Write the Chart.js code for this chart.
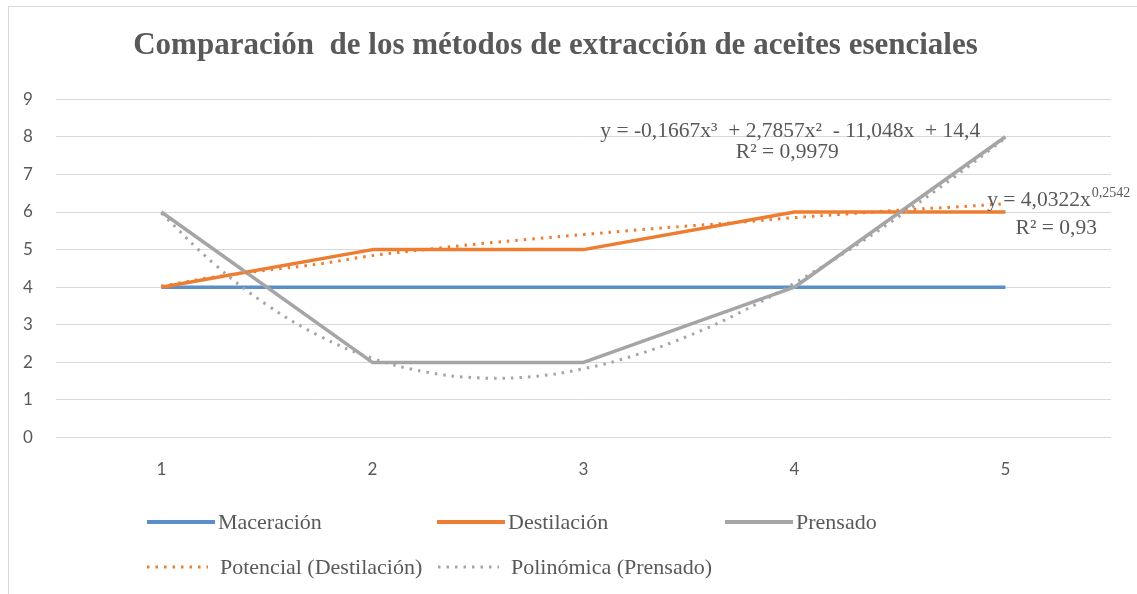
<!DOCTYPE html>
<html>
<head>
<meta charset="utf-8">
<script src="https://cdn.jsdelivr.net/npm/chart.js@4.4.1/dist/chart.umd.min.js"></script>
<style>
  html, body { margin: 0; padding: 0; background: #fff; }
  #wrap { width: 1137px; height: 594px; }
</style>
</head>
<body>
<div id="wrap"><canvas id="extraccion"></canvas></div>
<script>
const categories = [1, 2, 3, 4, 5]
const maceracion = [4, 4, 4, 4, 4]
const destilacion = [4, 5, 5, 6, 6]
const prensado = [6, 2, 2, 4, 8]

// trendlines
const trendX = [1, 1.25, 1.5, 1.75, 2, 2.25, 2.5, 2.75, 3, 3.25, 3.5, 3.75, 4, 4.25, 4.5, 4.75, 5]
const potencialY = [4.03, 4.27, 4.45, 4.62, 4.84, 5.0, 5.15, 5.28, 5.4, 5.52, 5.63, 5.73, 5.85, 5.95, 6.05, 6.13, 6.22]
const polinomicaY = [5.97, 4.62, 3.53, 2.7, 2.11, 1.75, 1.59, 1.62, 1.83, 2.2, 2.71, 3.35, 4.11, 4.96, 5.9, 6.9, 7.97]

const yTicks = [0, 1, 2, 3, 4, 5, 6, 7, 8, 9]

const polyEq = ['y = -0,1667x³  + 2,7857x²  - 11,048x  + 14,4', 'R² = 0,9979']
const powerEq = ['y = 4,0322x', '0,2542', 'R² = 0,93']

const seriesNames = ['Maceración', 'Destilación', 'Prensado', 'Potencial (Destilación)', 'Polinómica (Prensado)']
const colors = {blue: '#5B8FC8', orange: '#ED7D31', gray: '#A5A5A5'}
const textColor = '#595959'
const serif = '"Liberation Serif", "Times New Roman", serif'

const pts = (xs, ys) => xs.map((x, i) => ({x: x, y: ys[i]}))

// frame round the whole chart, like the Excel chart border
const frame = {
    id: 'frame',
    beforeDraw(chart) {
        const ctx = chart.ctx
        ctx.save()
        ctx.fillStyle = '#fff'
        ctx.fillRect(0, 0, chart.width, chart.height)
        ctx.strokeStyle = '#d9d9d9'
        ctx.lineWidth = 1
        ctx.strokeRect(8.5, 6.5, chart.width + 10, chart.height + 10)
        ctx.restore()
    }
}

// trendline equations, anchored on the data scales
const equations = {
    id: 'equations',
    afterDatasetsDraw(chart) {
        const {ctx, scales: {x, y}} = chart
        ctx.save()
        ctx.fillStyle = textColor
        ctx.textAlign = 'center'
        ctx.textBaseline = 'alphabetic'
        ctx.font = '21.5px ' + serif
        let cx = x.getPixelForValue(3.98), cy = y.getPixelForValue(8.0)
        ctx.fillText(polyEq[0], cx, cy)
        ctx.fillText(polyEq[1], cx - 3, cy + 21)

        cx = x.getPixelForValue(5.25)
        cy = y.getPixelForValue(6.17)
        ctx.font = '21.5px ' + serif
        const w1 = ctx.measureText(powerEq[0]).width
        ctx.font = '14px ' + serif
        const w2 = ctx.measureText(powerEq[1]).width
        const left = cx - (w1 + w2) / 2
        ctx.textAlign = 'left'
        ctx.font = '21.5px ' + serif
        ctx.fillText(powerEq[0], left, cy)
        ctx.font = '14px ' + serif
        ctx.fillText(powerEq[1], left + w1 + 1, cy - 9)
        ctx.textAlign = 'center'
        ctx.font = '21.5px ' + serif
        ctx.fillText(powerEq[2], cx - 2, cy + 28)
        ctx.restore()
    }
}

// legend laid out in fixed columns, left aligned, two rows
const columnLegend = {
    id: 'columnLegend',
    afterDraw(chart) {
        const ctx = chart.ctx
        const cols = [147, 437, 725]
        const rows = [522, 567]
        ctx.save()
        chart.data.datasets.forEach((ds, i) => {
            let col = i % 3, row = Math.floor(i / 3)
            let x0 = cols[col], y0 = rows[row]
            if (row === 1) x0 = [147, 438][col]
            let len = row === 0 ? 68 : 61
            ctx.beginPath()
            ctx.strokeStyle = ds.borderColor
            ctx.lineWidth = row === 0 ? 4 : 3
            ctx.setLineDash(ds.borderDash || [])
            ctx.moveTo(x0, y0)
            ctx.lineTo(x0 + len, y0)
            ctx.stroke()
            ctx.setLineDash([])
            ctx.font = '22px ' + serif
            ctx.textAlign = 'left'
            ctx.textBaseline = 'middle'
            ctx.fillStyle = textColor
            ctx.fillText(ds.label, x0 + len + (row === 0 ? 3 : 12), y0 + 1)
        })
        ctx.restore()
    }
}

new Chart(document.getElementById('extraccion'), {
    type: 'line',
    data: {
        datasets: [{
            label: seriesNames[0],
            data: pts(categories, maceracion),
            borderColor: colors.blue,
            borderWidth: 3.5,
            order: 4,
        }, {
            label: seriesNames[1],
            data: pts(categories, destilacion),
            borderColor: colors.orange,
            borderWidth: 3.5,
            order: 3,
        }, {
            label: seriesNames[2],
            data: pts(categories, prensado),
            borderColor: colors.gray,
            borderWidth: 3.5,
            order: 2,
        }, {
            label: seriesNames[3],
            data: pts(trendX, potencialY),
            borderColor: colors.orange,
            borderWidth: 3,
            borderDash: [2.5, 6],
            tension: 0.4,
            order: 1,
        }, {
            label: seriesNames[4],
            data: pts(trendX, polinomicaY),
            borderColor: colors.gray,
            borderWidth: 3,
            borderDash: [2.5, 6],
            tension: 0.4,
            order: 0,
        }]
    },
    options: {
        responsive: true,
        maintainAspectRatio: false,
        animation: false,
        elements: {point: {radius: 0, hoverRadius: 0}, line: {borderCapStyle: 'butt', borderJoinStyle: 'round'}},
        layout: {padding: {left: 0, right: 26, top: 0, bottom: 100}},
        scales: {
            x: {
                type: 'linear',
                min: 0.5,
                max: 5.5,
                afterBuildTicks: axis => { axis.ticks = categories.map(v => ({value: v})) },
                grid: {display: false},
                border: {display: false},
                ticks: {
                    padding: 14,
                    color: textColor,
                    font: {family: 'Lato', size: 17},
                },
            },
            y: {
                min: 0,
                max: 9,
                afterBuildTicks: axis => { axis.ticks = yTicks.map(v => ({value: v})) },
                grid: {color: '#d9d9d9', lineWidth: 1, drawTicks: false},
                border: {display: false},
                ticks: {
                    padding: 23,
                    color: textColor,
                    font: {family: 'Lato', size: 17},
                },
            },
        },
        plugins: {
            legend: {display: false},
            tooltip: {enabled: false},
            title: {
                display: true,
                text: 'Comparación  de los métodos de extracción de aceites esenciales',
                color: textColor,
                font: {family: serif, size: 31, weight: 'bold'},
                padding: {top: 27, bottom: 35},
            },
        },
    },
    plugins: [frame, equations, columnLegend],
});
</script>
</body>
</html>
